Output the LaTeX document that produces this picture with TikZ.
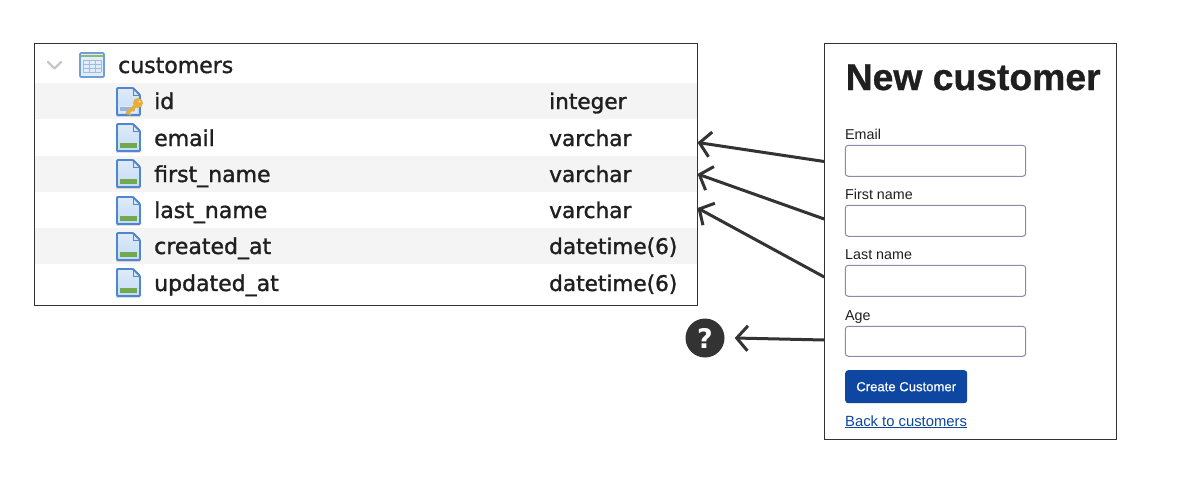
\documentclass[tikz,border=0pt]{standalone}
\usepackage{fontspec}
\setmainfont{Liberation Sans}
\newfontfamily\tablefont[FakeBold=1.4]{DejaVu Sans}
\newfontfamily\qfont{DejaVu Sans}
\newfontfamily\titlefont[FakeBold=0.8]{Liberation Sans Bold}
\newfontfamily\btnfont[FakeBold=0.4]{Liberation Sans}
\usetikzlibrary{arrows.meta}
\definecolor{ink}{HTML}{333333}
\definecolor{framec}{HTML}{333333}
\definecolor{stripe}{HTML}{F4F4F4}
\definecolor{fieldc}{HTML}{8A8DA8}
\definecolor{brand}{HTML}{0D47A1}
\definecolor{docb}{HTML}{4F86CF}
\definecolor{docl}{HTML}{C4DBF6}
\definecolor{docg}{HTML}{72A84E}
\definecolor{keyc}{HTML}{E8AE3A}
\tikzset{
  x=1pt,y=-1pt,
  frame/.style={draw=framec,line width=1pt,fill=none},
  tabletext/.style={anchor=base west,inner sep=0pt,font=\tablefont\fontsize{22}{24}\selectfont,text=black!88},
  typetext/.style={anchor=base west,inner sep=0pt,font=\tablefont\fontsize{21.6}{24}\selectfont,text=black!88},
  formlabel/.style={anchor=base west,inner sep=0pt,font=\fontsize{14.3}{16}\selectfont,text=black!88},
  field/.style={draw=fieldc,line width=1pt,fill=white,rounded corners=3pt},
  conn/.style={draw=ink,line width=3pt,-{Straight Barb[length=11pt,width=25pt,line width=3pt]}},
  docicon/.pic={
    \fill[top color=docl!55!white,bottom color=docl] (0,0) -- (17,0) -- (24,7) -- (24,29) -- (0,29) -- cycle;
    \draw[docb,line width=1.8pt,rounded corners=1pt] (1,1) -- (17,1) -- (24,8) -- (24,28) -- (1,28) -- cycle;
    \draw[docb,line width=.8pt] (17,1) -- (17,8) -- (24,8);
    \fill[docg] (4,20) rectangle (21,25);
  },
}
\begin{document}
\begin{tikzpicture}
\useasboundingbox (0,0) rectangle (1186,490);
\fill[white] (0,0) rectangle (1186,490);
% stripes
\fill[stripe] (34,83) rectangle (697,119);
\fill[stripe] (34,156) rectangle (697,192);
\fill[stripe] (34,228) rectangle (697,264);
\node[frame,minimum width=662.6pt,minimum height=262pt,inner sep=0pt,anchor=north west] (tableframe) at (34.2,42.8) {};
% chevron
\draw[black!22,line width=2.4pt,line cap=round,line join=round] (48,62) -- (54.5,68.5) -- (61,62);
% table icon
\fill[docl!50!white] (80,53) rectangle (104,77);
\draw[docb!80,line width=1.6pt,rounded corners=1pt] (80,53) rectangle (104,77);
\fill[docg!80] (81,54.5) rectangle (103,56.5);
\foreach \yy in {60,64,68,72} \draw[docb!55,line width=.8pt] (83,\yy) -- (101,\yy);
\foreach \xx in {83,89,95,101} \draw[docb!55,line width=.8pt] (\xx,60) -- (\xx,72);
% icons
\pic at (116,87) {docicon};
\pic at (116,123) {docicon};
\pic at (116,159) {docicon};
\pic at (116,196) {docicon};
\pic at (116,232) {docicon};
\pic at (116,268) {docicon};
% id icon: blue bar and key
\fill[docl!55!white] (119,106) rectangle (137,113);
\fill[docb!60] (120,107) rectangle (135,111);
\draw[keyc,line width=3.5pt,line cap=round] (127,113) -- (138,104);
\fill[keyc] (138,103) circle (5pt);
\fill[white!70!keyc] (139.5,101.5) circle (1.2pt);
\draw[keyc,line width=2.2pt] (127,111) -- (130.5,115);
\draw[keyc,line width=2.2pt] (131,108) -- (134,111);
% table text
\node[tabletext] (tname) at (118,73) {customers};
\node[tabletext] (n1) at (154,109) {id};
\node[tabletext] (n2) at (154,146) {email};
\node[tabletext] (n3) at (154,182) {first\_name};
\node[tabletext] (n4) at (154,218) {last\_name};
\node[tabletext] (n5) at (154,254) {created\_at};
\node[tabletext] (n6) at (154,291) {updated\_at};
\node[typetext] (t1) at (549,109) {integer};
\node[typetext] (t2) at (549,146) {varchar};
\node[typetext] (t3) at (549,182) {varchar};
\node[typetext] (t4) at (549,218) {varchar};
\node[typetext] (t5) at (549,254) {datetime(6)};
\node[typetext] (t6) at (549,291) {datetime(6)};
% form
\node[frame,minimum width=292pt,minimum height=396pt,inner sep=0pt,anchor=north west] (formframe) at (824.2,42.8) {};
\node[anchor=base west,inner sep=0pt,font=\titlefont\fontsize{37.3}{40}\selectfont,text=black!88] (title) at (845.5,90) {New customer};
\node[formlabel] (lemail) at (845,139) {Email};
\node[formlabel] (lfirst) at (845,199) {First name};
\node[formlabel] (llast) at (845,259) {Last name};
\node[formlabel] (lage) at (845,320) {Age};
\node[field,minimum width=180.4pt,minimum height=31pt,inner sep=0pt,anchor=north west] (femail) at (844.8,144.8) {};
\node[field,minimum width=180.4pt,minimum height=31pt,inner sep=0pt,anchor=north west] (ffirst) at (844.8,204.8) {};
\node[field,minimum width=180.4pt,minimum height=31pt,inner sep=0pt,anchor=north west] (flast) at (844.8,264.8) {};
\node[field,minimum width=180.4pt,minimum height=30pt,inner sep=0pt,anchor=north west] (fage) at (844.8,325.8) {};
\node[fill=brand,rounded corners=3pt,minimum width=122pt,minimum height=33pt,inner sep=0pt,anchor=north west,text=white,font=\btnfont\fontsize{13.1}{15}\selectfont] (btn) at (845,370) {Create Customer};
\node[anchor=base west,inner sep=0pt,text=brand,font=\fontsize{14.8}{16}\selectfont] (back) at (845,426) {\underline{Back to customers}};
% question mark
\node[circle,fill=ink,minimum size=39pt,inner sep=0pt,text=white,font=\qfont\bfseries\fontsize{27}{30}\selectfont] (q) at (705,338) {?};
% connector ends
\coordinate (s1) at (824.2,161.5);
\coordinate (s2) at (824.2,219);
\coordinate (s3) at (824.2,277);
\coordinate (s4) at (824.2,340);
\coordinate (e1) at (697.5,142.5);
\coordinate (e2) at (697.5,174);
\coordinate (e3) at (697.5,208);
\draw[conn] (s1) -- (e1);
\draw[conn] (s2) -- (e2);
\draw[conn] (s3) -- (e3);
\draw[conn] (s4) -- ([xshift=10pt]q.east);
\end{tikzpicture}
\end{document}
